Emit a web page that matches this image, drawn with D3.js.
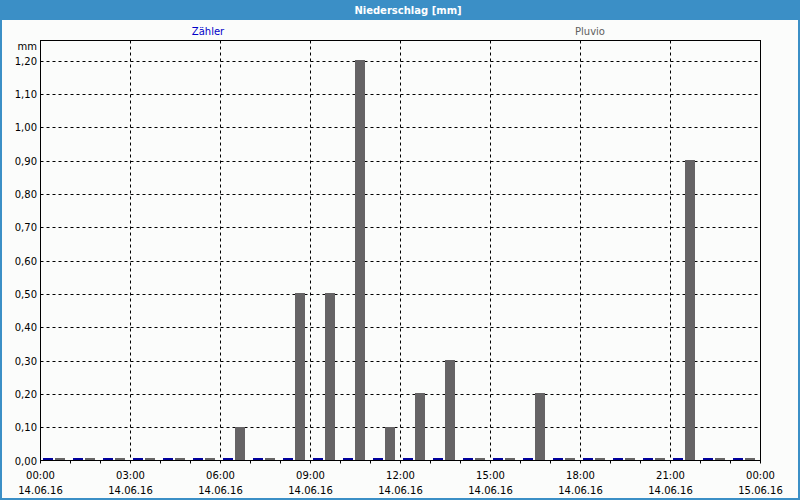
<!DOCTYPE html>
<html><head><meta charset="utf-8">
<script src="https://cdn.jsdelivr.net/npm/d3@7/dist/d3.min.js"></script>
<style>
html,body{margin:0;padding:0;background:#fff;}
svg text{font-family:"DejaVu Sans",Verdana,sans-serif;}
</style></head>
<body>
<svg id="c" width="800" height="500"></svg>
<script>
const title = "Niederschlag [mm]";
const seriesNames = ["Zähler", "Pluvio"];
const hours = d3.range(0, 24);
const zaehler = [0,0,0,0,0,0,0,0,0,0,0,0,0,0,0,0,0,0,0,0,0,0,0,0];
const pluvio  = [0,0,0,0,0,0,0.10,0,0.50,0.50,1.20,0.10,0.20,0.30,0,0,0.20,0,0,0,0,0.90,0,0];
const yTicks = [0,0.1,0.2,0.3,0.4,0.5,0.6,0.7,0.8,0.9,1.0,1.1,1.2];
const xLabelHours = [0,3,6,9,12,15,18,21,24];
const timeLabels = ["00:00","03:00","06:00","09:00","12:00","15:00","18:00","21:00","00:00"];
const dateLabels = ["14.06.16","14.06.16","14.06.16","14.06.16","14.06.16","14.06.16","14.06.16","14.06.16","15.06.16"];

const svg = d3.select("#c");
const W = 800, H = 500;
const blue = "#3b8fc6";
// frame
svg.append("rect").attr("x",0).attr("y",0).attr("width",W).attr("height",H).attr("fill",blue);
svg.append("rect").attr("x",2).attr("y",20).attr("width",W-4).attr("height",H-22).attr("fill","#fbfcfb");
svg.append("text").attr("x",408).attr("y",14).attr("text-anchor","middle")
  .attr("fill","#fff").attr("font-weight","bold").attr("font-size","10px").text(title);

const L=40.5, R=760.5, T=40.5, B=460.5;
const x = d3.scaleLinear().domain([0,24]).range([L,R]);
const y = d3.scaleLinear().domain([0,1.2]).range([B,60.5]);
const inner = d3.scaleBand().domain(seriesNames).range([3,25]).paddingInner(0.12);

const g = svg.append("g");
// horizontal grid
g.selectAll(".hg").data(yTicks.filter(d=>d>0)).join("line")
  .attr("x1",L).attr("x2",R).attr("y1",d=>Math.round(y(d))+0.5).attr("y2",d=>Math.round(y(d))+0.5)
  .attr("stroke","#000").attr("stroke-dasharray","3,3").attr("stroke-width",1);
// vertical grid
g.selectAll(".vg").data(xLabelHours.filter(h=>h>0&&h<24)).join("line")
  .attr("x1",d=>x(d)).attr("x2",d=>x(d)).attr("y1",T).attr("y2",B)
  .attr("stroke","#000").attr("stroke-dasharray","3,3").attr("stroke-width",1);

// bars
const colors = {"Zähler":"#00009c","Pluvio":"#666466"};
const data = [];
hours.forEach((h,i)=>{
  data.push({h, s:"Zähler", v:zaehler[i]});
  data.push({h, s:"Pluvio", v:pluvio[i]});
});
g.selectAll(".bar").data(data).join("rect")
  .attr("x",d=>Math.round(x(d.h)-0.5+inner(d.s)))
  .attr("width",d=>Math.round(inner.bandwidth()))
  .attr("y",d=>Math.min(Math.round(y(d.v)-0.5), B-0.5-2))
  .attr("height",d=>Math.max(2, Math.round(y(0)-y(d.v))))
  .attr("fill",d=>colors[d.s]);

// plot box
svg.append("rect").attr("x",L).attr("y",T).attr("width",R-L).attr("height",B-T)
  .attr("fill","none").attr("stroke","#000").attr("stroke-width",1);

// bottom ticks
svg.selectAll(".xt").data(d3.range(0,25)).join("line")
  .attr("x1",d=>x(d)).attr("x2",d=>x(d)).attr("y1",B).attr("y2",B+3)
  .attr("stroke","#000");

// y labels
svg.selectAll(".yl").data(yTicks).join("text")
  .attr("x",37).attr("y",d=>y(d)+4).attr("text-anchor","end")
  .attr("font-size","10px").attr("fill","#000")
  .text(d=>d3.format(".2f")(d).replace(".",","));
svg.append("text").attr("x",37).attr("y",50).attr("text-anchor","end")
  .attr("font-size","10px").attr("fill","#000").text("mm");

// x labels
svg.selectAll(".xl1").data(xLabelHours).join("text")
  .attr("x",d=>x(d)).attr("y",479).attr("text-anchor","middle")
  .attr("font-size","10px").attr("fill","#000").text((d,i)=>timeLabels[i]);
svg.selectAll(".xl2").data(xLabelHours).join("text")
  .attr("x",d=>x(d)).attr("y",494).attr("text-anchor","middle")
  .attr("font-size","10px").attr("fill","#000").text((d,i)=>dateLabels[i]);

// legend
svg.append("text").attr("x",208).attr("y",35).attr("text-anchor","middle")
  .attr("font-size","10px").attr("fill","#0000c8").text(seriesNames[0]);
svg.append("text").attr("x",590).attr("y",35).attr("text-anchor","middle")
  .attr("font-size","10px").attr("fill","#606060").text(seriesNames[1]);
</script>
</body></html>
